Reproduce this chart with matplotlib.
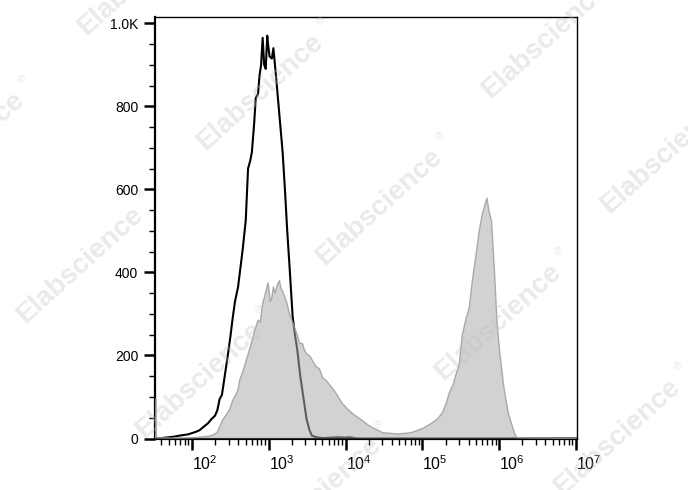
import matplotlib.pyplot as plt
import numpy as np
from matplotlib.ticker import FixedLocator, LogLocator, NullFormatter

# black outline histogram (control), x in log10 units, y in events
ctrl_log = [1.52, 1.55, 1.65, 1.75, 1.84, 1.95, 2.05, 2.10, 2.15, 2.21, 2.25, 2.30,
            2.33, 2.36, 2.39, 2.43, 2.47, 2.50, 2.53, 2.56, 2.60, 2.63, 2.66, 2.70,
            2.73, 2.76, 2.78, 2.81, 2.83, 2.86, 2.88, 2.90, 2.92, 2.94, 2.96, 2.98,
            2.99, 3.01, 3.04, 3.06, 3.08, 3.10, 3.14, 3.18, 3.21, 3.24, 3.27, 3.31,
            3.34, 3.37, 3.41, 3.45, 3.49, 3.53, 3.56, 3.62, 3.70, 3.80, 3.90, 4.00,
            4.05, 4.15, 7.00]
ctrl_cnt = [2, 0, 2, 4, 7, 10, 16, 20, 28, 37, 46, 55,
            68, 95, 105, 155, 205, 245, 290, 330, 365, 410, 455, 525,
            650, 670, 690, 760, 820, 830, 875, 900, 965, 900, 890, 970,
            950, 920, 915, 940, 900, 860, 775, 690, 600, 500, 415, 295,
            250, 215, 150, 100, 48, 20, 7, 3, 1, 2, 3, 2,
            3, 0, 0]

# grey filled histogram (stained sample)
stain_log = [1.52, 1.528, 1.536, 1.55, 1.80, 2.00, 2.15, 2.23, 2.28, 2.325, 2.36, 2.40, 2.45,
             2.49, 2.53, 2.57, 2.60, 2.62, 2.66, 2.71, 2.75, 2.79, 2.82, 2.86, 2.89,
             2.92, 2.95, 2.99, 3.02, 3.04, 3.06, 3.08, 3.11, 3.14, 3.16, 3.18, 3.23,
             3.27, 3.30, 3.34, 3.37, 3.40, 3.44, 3.46, 3.49, 3.53, 3.57, 3.62, 3.66,
             3.70, 3.75, 3.79, 3.84, 3.88, 3.92, 3.96, 4.02, 4.09, 4.15, 4.22, 4.28,
             4.35, 4.42, 4.48, 4.55, 4.61, 4.68, 4.74, 4.81, 4.87, 4.94, 5.00, 5.06,
             5.13, 5.20, 5.26, 5.31, 5.35, 5.40, 5.44, 5.48, 5.52, 5.57, 5.61, 5.65,
             5.70, 5.74, 5.78, 5.81, 5.84, 5.87, 5.90, 5.94, 5.97, 6.00, 6.03, 6.06,
             6.09, 6.12, 6.16, 6.20, 6.23, 7.00]
stain_cnt = [0, 95, 4, 2, 1, 2, 4, 6, 9, 14, 28, 45, 58,
             70, 92, 105, 118, 140, 160, 190, 215, 240, 262, 285, 280,
             325, 345, 375, 330, 340, 365, 350, 370, 380, 360, 355, 330,
             300, 285, 265, 250, 230, 228, 215, 204, 200, 187, 172, 168,
             147, 139, 130, 118, 108, 95, 84, 72, 60, 52, 43, 34,
             26, 20, 14, 13, 12, 11, 12, 13, 15, 20, 24, 30,
             38, 48, 62, 85, 110, 130, 156, 180, 250, 290, 315, 380,
             445, 500, 541, 560, 579, 545, 524, 397, 284, 220, 171, 125,
             91, 60, 36, 12, 2, 0]

y_ticks = [0, 200, 400, 600, 800, 1000]
y_labels = ['0', '200', '400', '600', '800', '1.0K']
x_ticks = [1e2, 1e3, 1e4, 1e5, 1e6, 1e7]
x_labels = [r'$\mathdefault{10^{%d}}$' % p for p in range(2, 8)]

plt.rcParams['font.family'] = ['Liberation Sans', 'DejaVu Sans']
plt.rcParams['font.size'] = 10

W, H = 688, 490
fig = plt.figure(figsize=(W / 100, H / 100), dpi=100)
ax = fig.add_axes([155 / W, 1 - 439 / H, (577 - 155) / W, (439 - 17) / H])

cx = 10 ** np.array(ctrl_log)
sx = 10 ** np.array(stain_log)
ax.plot(cx, ctrl_cnt, color='black', lw=1.5, zorder=2)
ax.fill_between(sx, stain_cnt, 0, facecolor='#adadad', edgecolor='none', alpha=0.55, zorder=3)
ax.plot(sx, stain_cnt, color='#9a9a9a', lw=1.0, alpha=0.8, zorder=3)

ax.set_xscale('log')
ax.set_xlim(33, 1.03e7)
ax.set_ylim(-1.2, 1015)

ax.set_xticks(x_ticks)
ax.set_xticklabels(x_labels, ha='left', fontsize=11.5)
ax.xaxis.set_minor_locator(LogLocator(base=10, subs=np.arange(2, 10), numticks=20))
ax.xaxis.set_minor_formatter(NullFormatter())
ax.set_yticks(y_ticks)
ax.set_yticklabels(y_labels)
ax.yaxis.set_minor_locator(FixedLocator(np.arange(0, 1001, 50)))

ax.tick_params(which='major', direction='out', length=8, width=1.8, color='black')
ax.tick_params(which='minor', direction='out', length=4, width=1.0, color='black')
ax.tick_params(axis='y', which='major', pad=4)
ax.tick_params(axis='x', which='major', pad=3)

for side in ['left', 'bottom']:
    ax.spines[side].set_linewidth(1.6)
for side in ['top', 'right']:
    ax.spines[side].set_linewidth(1.0)

# faint repeated watermark
marks = [(141, -23), (260, 92), (379, 207), (498, 322), (617, 437),
         (-39, 150), (80, 265), (199, 380), (318, 495),
         (545, 40), (664, 155)]
for mx, my in marks:
    fig.text(mx / W, 1 - my / H, 'Elabscience', fontsize=20, fontweight='bold',
             color='0.75', alpha=0.32, rotation=42, ha='center', va='center',
             rotation_mode='anchor', zorder=10)
    fig.text((mx + 60) / W, 1 - (my - 70) / H, '®', fontsize=8,
             color='0.75', alpha=0.32, ha='center', va='center', zorder=10)

fig.savefig('out.png', dpi=100)
